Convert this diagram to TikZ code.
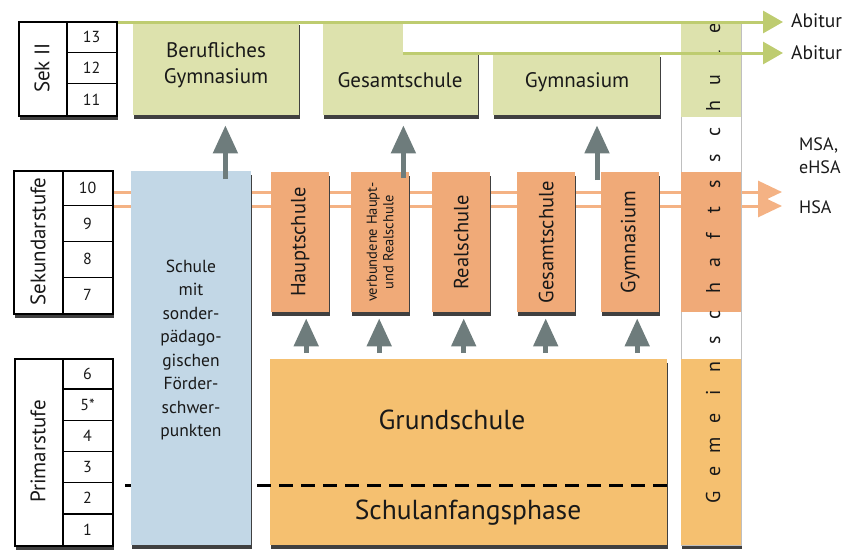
\documentclass[tikz,border=0pt]{standalone}
\usepackage{fontspec}
\setmainfont{PT Sans}
\usetikzlibrary{arrows.meta,shadows,backgrounds}

\definecolor{gruenbox}{RGB}{221,226,173}
\definecolor{gruenlinie}{RGB}{190,204,112}
\definecolor{orangebox}{RGB}{240,170,120}
\definecolor{orangelinie}{RGB}{244,178,132}
\definecolor{grundbox}{RGB}{245,192,112}
\definecolor{blaubox}{RGB}{194,215,230}
\definecolor{pfeilgrau}{RGB}{110,124,124}

\begin{document}
\begin{tikzpicture}[
	x=1pt, y=-1pt,
	schatten/.style={drop shadow={shadow xshift=1pt, shadow yshift=-4pt, fill=black!75, opacity=1}},
	stufe/.style={draw=black, line width=1.6pt, fill=white, schatten, anchor=north west, inner sep=0pt},
	kasten/.style={anchor=north west, inner sep=0pt, schatten},
	sekbox/.style={kasten, fill=orangebox, minimum width=58pt, minimum height=140pt},
	gruen/.style={kasten, fill=gruenbox},
	zahl/.style={font=\fontsize{16}{18}\selectfont, text=black!90},
	stufentext/.style={rotate=90, font=\fontsize{21}{24}\selectfont, text=black!90},
	senk/.style={rotate=90, font=\fontsize{20.5}{23}\selectfont, text=black!90},
	schrift/.style={font=\fontsize{21}{26}\selectfont, text=black!90, align=center},
	pfeil/.style={draw=pfeilgrau, line width=5pt, -{Triangle[length=28pt,width=24pt]}},
	gruenpfeil/.style={draw=gruenlinie, line width=3pt, -{Triangle[length=20pt,width=22pt]}},
	orangepfeil/.style={draw=orangelinie, line width=3pt, -{Triangle[length=24pt,width=22pt]}}
	]
	\useasboundingbox (0,0) rectangle (858,554);
	
	% Stufen links: Sek II
	\node[stufe, minimum width=98pt, minimum height=94pt] (sekII) at (18,21) {};
	\draw[line width=1.4pt] (67,21) -- (67,115);
	\foreach \i in {1,2}
	\draw[line width=1.4pt] (67,{21+\i*31.33}) -- (116,{21+\i*31.33});
	\foreach \n [count=\i] in {13,12,11}
	\node[zahl] (sekII\i) at (91.5,{21+(\i-0.5)*31.33}) {\n};
	\node[stufentext] (sekIItxt) at (42,68) {Sek II};
	
	% Sekundarstufe
	\node[stufe, minimum width=99pt, minimum height=143pt] (sekI) at (13,170) {};
	\draw[line width=1.4pt] (63,170) -- (63,313);
	\foreach \i in {1,2,3}
	\draw[line width=1.4pt] (63,{170+\i*35.75}) -- (112,{170+\i*35.75});
	\foreach \n [count=\i] in {10,9,8,7}
	\node[zahl] (sekI\i) at (87.5,{170+(\i-0.5)*35.75}) {\n};
	\node[stufentext] (sekItxt) at (38,241.5) {Sekundarstufe};
	
	% Primarstufe
	\node[stufe, minimum width=98pt, minimum height=187pt] (prim) at (14,358) {};
	\draw[line width=1.4pt] (63,358) -- (63,545);
	\foreach \i in {1,...,5}
	\draw[line width=1.4pt] (63,{358+\i*31.17}) -- (112,{358+\i*31.17});
	\foreach \n [count=\i] in {6,5*,4,3,2,1}
	\node[zahl] (prim\i) at (87.5,{358+(\i-0.5)*31.17}) {\n};
	\node[stufentext] (primtxt) at (38,451.5) {Primarstufe};
	
	% Grundschule mit Trennlinie
	\node[kasten, fill=grundbox, minimum width=397pt, minimum height=186pt] (grund) at (270,359) {};
	\node[schrift, font=\fontsize{27.5}{30}\selectfont] (grundtxt) at (452,420) {Grundschule};
	\node[schrift, font=\fontsize{27.5}{30}\selectfont] (anfangtxt) at (468,513) {Schulanfangsphase};
	\coordinate (strich) at (125,485);
	\draw[line width=3pt, dash pattern=on 14pt off 8pt] (strich) -- (strich -| grund.east);
	
	% Foerderschule
	\node[kasten, fill=blaubox, minimum width=120pt, minimum height=374pt] (sonder) at (131,171) {};
	\node[schrift, font=\fontsize{17.5}{23.5}\selectfont] (sondertxt) at (191,350)
	{Schule\\mit\\sonder-\\pädago-\\gischen\\Förder-\\schwer-\\punkten};
	
	% Sekundarstufe I Schulformen
	\foreach \nm/\xx/\txt in {haupt/271/Hauptschule, real/432/Realschule, gesamt/517/Gesamtschule, gym/601/Gymnasium}
	{
		\node[sekbox] (\nm) at (\xx,172) {};
		\node[senk] (\nm-t) at (\nm) {\txt};
	}
	\node[sekbox] (verb) at (351,172) {};
	\node[senk, font=\fontsize{14.5}{16.5}\selectfont, align=center] (verb-t) at (verb) {verbundene Haupt-\\und Realschule};
	
	% Oberstufe
	\node[gruen, minimum width=166pt, minimum height=94pt] (berGym) at (133,21) {};
	\node[schrift] (berGymtxt) at (216,65) {Berufliches\\Gymnasium};
	\node[gruen, minimum width=155pt, minimum height=94pt] (gesOben) at (323,21) {};
	\fill[white] (403,19) rectangle (482,52);
	\node[schrift] (gesObentxt) at (400,80) {Gesamtschule};
	\node[gruen, minimum width=167pt, minimum height=62pt] (gymOben) at (493,53) {};
	\node[schrift] (gymObentxt) at (577,82) {Gymnasium};
	
	% Gemeinschaftsschule
	\node[kasten, fill=white, draw=black!25, line width=0.6pt, minimum width=60pt, minimum height=523pt] (gemein) at (681,22) {};
	\fill[gruenbox] (681,22) rectangle (741,117);
	\fill[orangebox] (681,172) rectangle (741,312);
	\fill[grundbox] (681,359) rectangle (741,545);
	\foreach \c [count=\i] in {G,e,m,e,i,n,s,c,h,a,f,t,s,s,c,h,u,l,e}
	\node[rotate=90, anchor=base, inner sep=0pt, font=\fontsize{20}{22}\selectfont, text=black!90] (gem\i) at (720,{497-(\i-1)*26.06}) {\c};
	
	% Abschluesse
	\coordinate (abiA) at (783,22);
	\coordinate (abiB) at (783,53);
	\draw[gruenpfeil] (sekII.north east |- abiA) -- (abiA);
	\draw[gruenpfeil] ([xshift=-75pt]gesOben.north east |- abiB) -- (abiB);
	\node[anchor=west, inner sep=0pt, font=\fontsize{19.5}{22}\selectfont, text=black!90] (abiAtxt) at (791,21) {Abitur};
	\node[anchor=west, inner sep=0pt, font=\fontsize{19.5}{22}\selectfont, text=black!90] (abiBtxt) at (791,53) {Abitur};
	
	\coordinate (msa) at (782,192);
	\coordinate (hsa) at (782,206);
	\begin{scope}[on background layer]
		\draw[orangepfeil] (sekI.north east |- msa) -- (msa);
		\draw[orangepfeil] (sekI.north east |- hsa) -- (hsa);
	\end{scope}
	\node[anchor=west, inner sep=0pt, align=left, font=\fontsize{18}{23}\selectfont, text=black!90] (msatxt) at (799,156) {MSA,\\eHSA};
	\node[anchor=west, inner sep=0pt, font=\fontsize{18}{20}\selectfont, text=black!90] (hsatxt) at (799,207) {HSA};
	
	% Uebergaenge
	\draw[pfeil, shorten >=10pt] ([xshift=-26pt,yshift=-8pt]sonder.north east) -- ([xshift=-26pt]sonder.north east |- berGym.south);
	\draw[pfeil, shorten >=10pt] ([xshift=-6pt,yshift=-6pt]verb.north east) -- ([xshift=-6pt]verb.north east |- gesOben.south);
	\draw[pfeil, shorten >=10pt] ([xshift=-4pt,yshift=-8pt]gym.north west) -- ([xshift=-4pt]gym.north west |- gymOben.south);
	\foreach \nm/\dx in {haupt/6, verb/-1, real/2.5, gesamt/-0.5, gym/7}
	\draw[pfeil, shorten <=6pt, shorten >=6pt] ([xshift=\dx pt]\nm.south |- grund.north) -- ([xshift=\dx pt]\nm.south);
\end{tikzpicture}
\end{document}
